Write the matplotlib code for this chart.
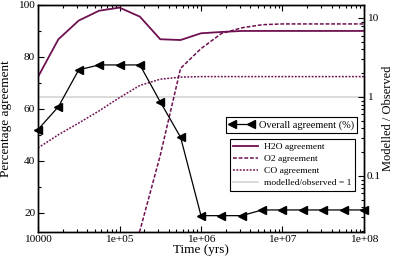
import numpy as np
import matplotlib
matplotlib.use('Agg')
import matplotlib.pyplot as plt
from matplotlib.ticker import MultipleLocator, LogLocator, NullFormatter
from matplotlib.lines import Line2D

plt.rcParams['font.family'] = ['Liberation Serif', 'DejaVu Serif']

# time grid (yrs), quarter decades
t = [1.0e4, 1.78e4, 3.16e4, 5.62e4, 1.0e5, 1.78e5, 3.16e5, 5.62e5, 1.0e6,
     1.78e6, 3.16e6, 5.62e6, 1.0e7, 1.78e7, 3.16e7, 5.62e7, 1.0e8]

overall = [52.0, 60.8, 75.0, 76.9, 76.9, 76.9, 62.7, 49.0, 18.8,
           18.8, 18.8, 21.0, 21.0, 21.0, 21.0, 21.0, 21.0]
h2o = [72.3, 86.8, 94.0, 97.8, 99.0, 95.5, 86.8, 86.5, 89.1,
       89.6, 90.0, 90.0, 90.0, 90.0, 90.0, 90.0, 90.0]
co = [44.9, 50.0, 54.5, 59.2, 64.3, 69.0, 71.4, 72.2, 72.4,
      72.4, 72.4, 72.4, 72.4, 72.4, 72.4, 72.4, 72.4]
t_o2 = t[4:]
o2 = [0.0, 13.0, 42.0, 75.6, 83.2, 89.0, 91.2, 92.4, 92.7,
      92.7, 92.7, 92.7, 92.7]

ratio_one = 1.0

xticks = [1e4, 1e5, 1e6, 1e7, 1e8]
xticklabels = ['10000', '1e+05', '1e+06', '1e+07', '1e+08']

col = '#6e1050'

fig = plt.figure(figsize=(3.95, 2.6), dpi=100)
ax = fig.add_axes([38/395, 1-232/260, 326/395, 227/260])
ax2 = ax.twinx()

ax.plot(t, h2o, color=col, lw=1.3, solid_joinstyle='miter')
ax.plot(t_o2, o2, color=col, lw=1.1, linestyle=(0, (2.5, 1.2)))
ax.plot(t, co, color=col, lw=1.1, linestyle=(0, (1.2, 1.0)))
ax2.axhline(ratio_one, color='#d4d4d4', lw=1.2, zorder=1)
ax.plot(t, overall, color='black', lw=0.9, marker='<', markersize=6,
        markerfacecolor='black', markeredgecolor='black', clip_on=False, zorder=5)
ax.set_zorder(ax2.get_zorder() + 1)
ax.patch.set_visible(False)

ax.set_xscale('log')
ax.set_xlim(1e4, 1e8)
ax.set_ylim(12.5, 100)
ax.set_xticks(xticks)
ax.set_xticklabels(xticklabels)
ax.xaxis.set_minor_locator(LogLocator(base=10, subs=np.arange(2, 10)))
ax.xaxis.set_minor_formatter(NullFormatter())
ax.yaxis.set_major_locator(MultipleLocator(20))
ax.yaxis.set_minor_locator(MultipleLocator(10))

ax2.set_yscale('log')
ax2.set_ylim(0.0195, 14.6)
ax2.set_yticks([0.1, 1, 10])
ax2.set_yticklabels(['0.1', '1', '10'])
ax2.yaxis.set_minor_locator(LogLocator(base=10, subs=np.arange(2, 10)))
ax2.yaxis.set_minor_formatter(NullFormatter())

for a in (ax, ax2):
    a.tick_params(which='major', direction='in', length=4.5, width=0.8, labelsize=8.2, pad=2)
    a.tick_params(which='minor', direction='in', length=2.5, width=0.8)
    for s in a.spines.values():
        s.set_linewidth(1.0)
ax.tick_params(which='both', top=True, right=False)

ax.set_xlabel('Time (yrs)', fontsize=9.5, labelpad=0)
ax.set_ylabel('Percentage agreement', fontsize=9.5, labelpad=5)
ax2.set_ylabel('Modelled / Observed', fontsize=9, labelpad=0.5)

h_overall = Line2D([], [], color='black', lw=0.9, marker='<', markersize=6)
h_h2o = Line2D([], [], color=col, lw=1.3)
h_o2 = Line2D([], [], color=col, lw=1.1, linestyle=(0, (2.5, 1.2)))
h_co = Line2D([], [], color=col, lw=1.1, linestyle=(0, (1.2, 1.0)))
h_one = Line2D([], [], color='#d4d4d4', lw=1.2)

leg1 = ax.legend([h_overall], ['Overall agreement (%)'], loc='upper right',
                 bbox_to_anchor=(0.979, 0.507), numpoints=2, fontsize=7.5,
                 fancybox=False, framealpha=1, edgecolor='black',
                 handlelength=2.4, borderpad=0.3, handletextpad=0.5, borderaxespad=0)
leg1.get_frame().set_linewidth(0.8)
ax.add_artist(leg1)
leg2 = ax.legend([h_h2o, h_o2, h_co, h_one],
                 ['H2O agreement', 'O2 agreement', 'CO agreement', 'modelled/observed = 1'],
                 loc='upper right', bbox_to_anchor=(0.972, 0.41), fontsize=6.8,
                 fancybox=False, framealpha=1, edgecolor='black',
                 handlelength=2.6, borderpad=0.4, labelspacing=0.35,
                 handletextpad=0.6, borderaxespad=0)
leg2.get_frame().set_linewidth(0.8)

fig.savefig('out.png', dpi=100)
